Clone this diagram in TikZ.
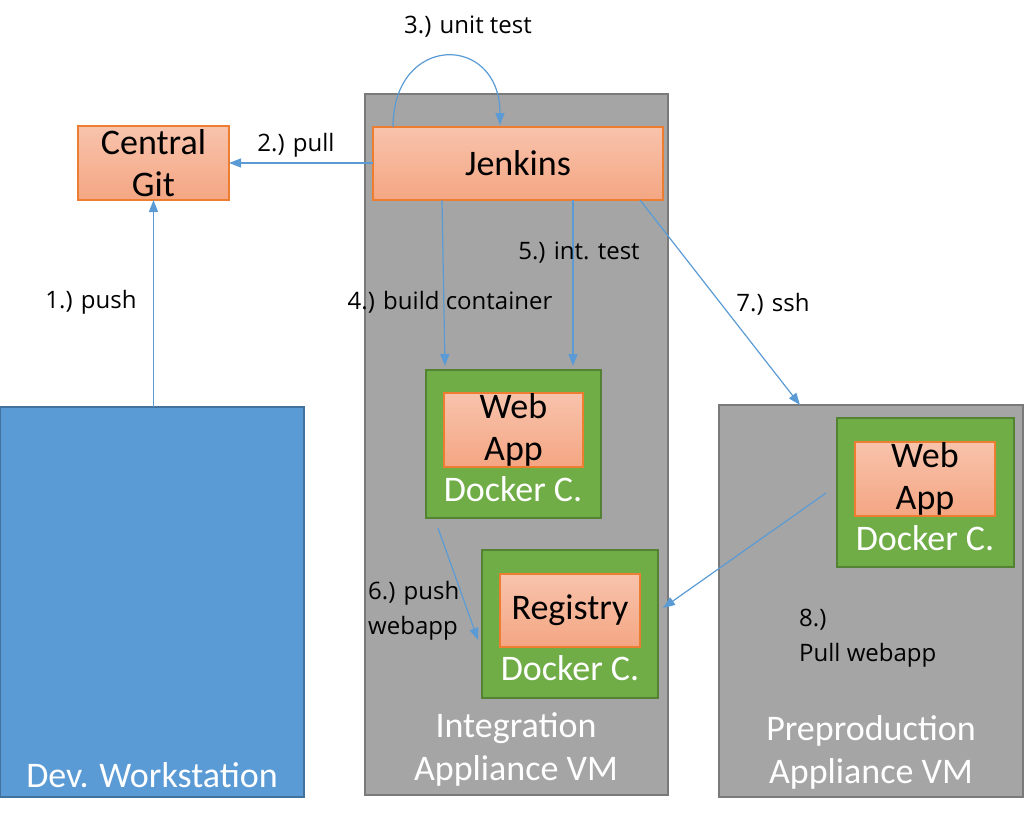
\documentclass[tikz,border=0pt]{standalone}
\usepackage{fontspec}
\setmainfont{Carlito}
\newfontfamily\lblfont{Open Sans}
\usetikzlibrary{arrows.meta,calc}
\definecolor{vmgrey}{HTML}{A5A5A5}
\definecolor{vmborder}{HTML}{7A7A7A}
\definecolor{devblue}{HTML}{5B9BD5}
\definecolor{devborder}{HTML}{41719C}
\definecolor{dgreen}{HTML}{70AD47}
\definecolor{dgreenb}{HTML}{548235}
\definecolor{orgtop}{HTML}{F8C3AC}
\definecolor{orgbot}{HTML}{F4A683}
\definecolor{orgb}{HTML}{ED7D31}
\definecolor{arrowblue}{HTML}{5B9BD5}
\tikzset{
  box/.style={anchor=north west, inner sep=0pt, outer sep=0pt, line width=1.5pt},
  vm/.style={box, draw=vmborder, fill=vmgrey},
  dev/.style={box, draw=devborder, fill=devblue},
  dock/.style={box, draw=dgreenb, fill=dgreen, line width=2pt},
  app/.style={box, draw=orgb, line width=1.2pt, top color=orgtop, bottom color=orgbot, font=\fontsize{36}{42}\selectfont, align=center, text=black},
  bigw/.style={font=\fontsize{36}{43}\selectfont, text=white, align=center, inner sep=0pt},
  lbl/.style={font=\lblfont\fontsize{24}{35}\selectfont, text=black, inner sep=0pt},
  conn/.style={draw=arrowblue, line width=1.2pt, -{Triangle[length=12pt,width=9pt]}}
}
\begin{document}
\begin{tikzpicture}[x=1pt,y=-1pt]
\useasboundingbox (0,0) rectangle (1024,819);
% containers
\node[dev, minimum width=304, minimum height=390] (dev) at (0,407) {};
\node[bigw] (devt) at (152,775) {Dev. Workstation};
\node[vm, minimum width=303, minimum height=701] (intvm) at (365,94) {};
\node[bigw] (intt) at (516,749) {Integration\\Appliance VM};
\node[vm, minimum width=304, minimum height=392] (pre) at (719,405) {};
\node[bigw] (pret) at (871,752) {Preproduction\\Appliance VM};
% boxes
\node[app, minimum width=151, minimum height=74] (git) at (78,126) {Central\\Git};
\node[app, minimum width=290, minimum height=73] (jen) at (373,127) {Jenkins};
\node[dock, minimum width=175, minimum height=148] (d1) at (426,370) {};
\node[app, minimum width=139, minimum height=74] (w1) at (444,393) {Web\\App};
\node[bigw] (d1t) at (513,489) {Docker C.};
\node[dock, minimum width=176, minimum height=148] (d2) at (482,550) {};
\node[app, minimum width=140, minimum height=73] (reg) at (500,574) {Registry};
\node[bigw] (d2t) at (570,668) {Docker C.};
\node[dock, minimum width=177, minimum height=149] (d3) at (837,418) {};
\node[app, minimum width=140, minimum height=74] (w3) at (855,442) {Web\\App};
\node[bigw] (d3t) at (925,538) {Docker C.};
% connectors
\draw[conn] (dev.north -| git.south) -- (git.south);
\draw[conn] (jen.west |- git.east) -- (git.east);
\draw[conn] ($(jen.north west)+(20,0)$) .. controls ($(jen.north west)+(20,-94)$) and ($(jen.north west)+(127,-94)$) .. ($(jen.north west)+(127,-2)$);
\draw[conn] ($(jen.south west)+(69,0)$) -- ($(d1.north west)+(19,-4)$);
\draw[conn] ($(jen.south west)+(200,0)$) -- ($(d1.north west)+(147,-4)$);
\draw[conn] ($(jen.south west)+(267,0)$) -- ($(pre.north west)+(81,0)$);
\draw[conn] ($(d1.south west)+(12,10)$) -- ($(d2.north west)+(-4,90)$);
\draw[conn] ($(d3.north west)+(-11,75)$) -- ($(d2.north east)+(5,58)$);
% labels
\node[lbl] (l1) at (91,302) {1.) push};
\node[lbl] (l2) at (296,145) {2.) pull};
\node[lbl] (l3) at (468,27) {3.) unit test};
\node[lbl] (l4) at (450,302) {4.) build container};
\node[lbl] (l5) at (579,253) {5.) int. test};
\node[lbl, anchor=west] (l6) at (368,610) {\begin{tabular}{@{}l@{}}6.) push\\webapp\end{tabular}};
\node[lbl] (l7) at (773,304) {7.) ssh};
\node[lbl, anchor=west] (l8) at (799,637) {\begin{tabular}{@{}l@{}}8.)\\Pull webapp\end{tabular}};
\end{tikzpicture}
\end{document}
